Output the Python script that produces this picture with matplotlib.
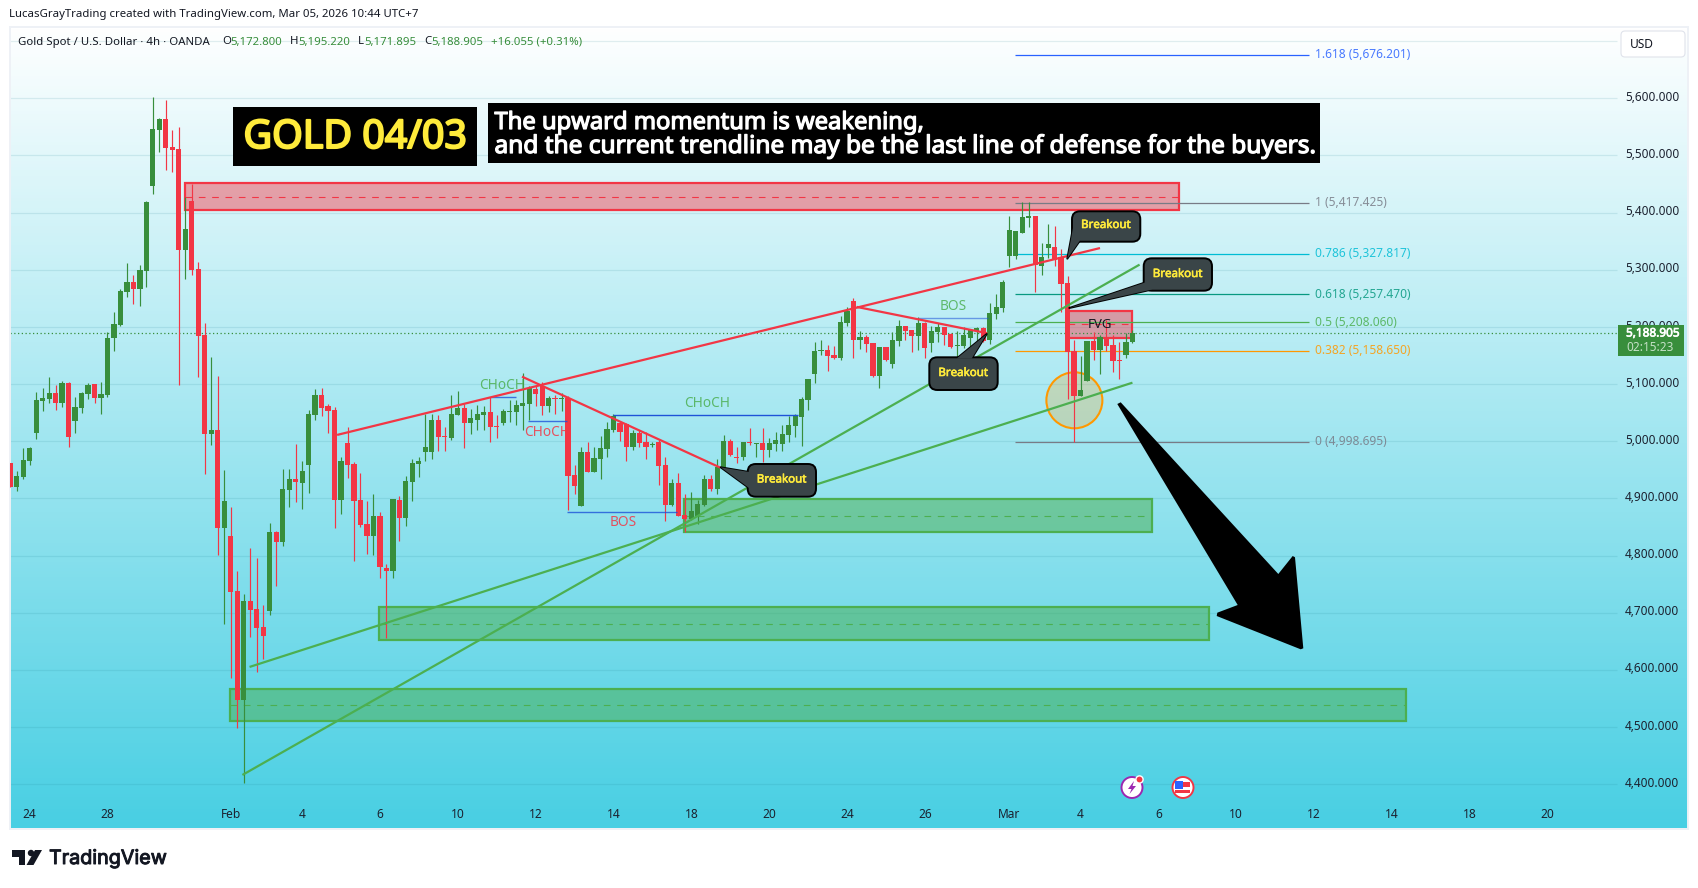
import numpy as np
import matplotlib
matplotlib.use("Agg")
import matplotlib.pyplot as plt
import matplotlib.patheffects as pe
from matplotlib.colors import LinearSegmentedColormap, to_rgba
from matplotlib.patches import Rectangle, Ellipse, Polygon, FancyBboxPatch, Circle

plt.rcParams['font.family'] = ['Noto Sans', 'DejaVu Sans']

# candles, one every 4h
opens = [4961, 4919, 4937, 4965, 5015, 5070, 5074, 5084, 5067, 5102,
         5035, 5058, 5083, 5100, 5075, 5081, 5180, 5203, 5261, 5279,
         5266, 5298, 5446, 5544, 5564, 5515, 5511, 5335, 5420, 5301,
         5186, 5013, 5020, 4848, 4834, 4738, 4547, 4720, 4706, 4675,
         4703, 4841, 4823, 4915, 4934, 4927, 4958, 5046, 5081, 5062,
         5054, 4897, 4997, 4960, 4897, 4855, 4834, 4869, 4778, 4773,
         4897, 4866, 4929, 4960, 4981, 4981, 5037, 5009, 5005, 5046,
         5058, 5032, 5037, 5046, 5051, 5027, 5032, 5051, 5051, 5062,
         5065, 5091, 5097, 5062, 5075, 5073, 5075, 4941, 4887, 4981,
         4946, 4969, 4986, 5020, 5032, 5030, 4990, 5014, 4999, 4993,
         4999, 4958, 4888, 4927, 4871, 4864, 4869, 4888, 4934, 4916,
         4953, 5000, 4973, 4972, 4998, 4995, 4997, 4985, 4995, 4995,
         5011, 5027, 5042, 5072, 5118, 5158, 5159, 5151, 5146, 5207,
         5245, 5177, 5182, 5172, 5114, 5165, 5135, 5175, 5201, 5195,
         5184, 5207, 5172, 5191, 5200, 5188, 5167, 5167, 5181, 5193,
         5198, 5177, 5223, 5233, 5324, 5324, 5364, 5390, 5394, 5306,
         5338, 5340, 5322, 5277, 5158, 5079, 5105, 5175, 5160, 5180,
         5168, 5142, 5151, 5172.8]
highs = [4961, 4948, 4988, 4990, 5086, 5093, 5112, 5098, 5105, 5104,
         5077, 5086, 5102, 5100, 5103, 5191, 5226, 5266, 5312, 5291,
         5308, 5420, 5602, 5565, 5597, 5544, 5550, 5427, 5450, 5313,
         5207, 5147, 5114, 4950, 4885, 4773, 4733, 4813, 4796, 4713,
         4857, 4843, 4951, 4951, 4995, 4965, 5054, 5091, 5093, 5065,
         5060, 4972, 5025, 4964, 4944, 4895, 4908, 4876, 4785, 4899,
         4904, 4939, 4969, 4972, 5047, 5047, 5046, 5025, 5081, 5088,
         5065, 5056, 5063, 5061, 5077, 5046, 5056, 5072, 5072, 5119,
         5097, 5097, 5104, 5079, 5081, 5084, 5079, 4958, 4990, 4999,
         4990, 5009, 5034, 5047, 5034, 5032, 5020, 5020, 5016, 4999,
         5002, 4972, 4934, 4944, 4907, 4911, 4897, 4941, 4941, 4969,
         5011, 5004, 4990, 4998, 5023, 4997, 5023, 5005, 5016, 5028,
         5044, 5048, 5077, 5109, 5174, 5177, 5168, 5167, 5219, 5235,
         5251, 5193, 5186, 5172, 5165, 5165, 5191, 5212, 5201, 5195,
         5217, 5209, 5201, 5207, 5200, 5189, 5193, 5200, 5196, 5200,
         5200, 5242, 5258, 5282, 5394, 5367, 5418, 5418, 5394, 5347,
         5380, 5376, 5336, 5289, 5177, 5149, 5175, 5191, 5186, 5212,
         5186, 5173, 5189, 5195.22]
lows = [4919, 4913, 4934, 4959, 5004, 5053, 5066, 5055, 5060, 4990,
        5014, 5049, 5074, 5067, 5048, 5077, 5158, 5201, 5252, 5240,
        5237, 5270, 5432, 5506, 5475, 5471, 5098, 5284, 5291, 5112,
        4943, 4993, 4801, 4680, 4586, 4498, 4402, 4657, 4596, 4619,
        4696, 4747, 4817, 4885, 4894, 4881, 4909, 5037, 5044, 5014,
        4848, 4873, 4935, 4790, 4850, 4803, 4801, 4760, 4655, 4761,
        4825, 4852, 4895, 4937, 4965, 4969, 4983, 4983, 5002, 5046,
        4988, 5012, 5019, 5019, 4998, 5005, 5028, 5033, 5028, 5020,
        5037, 5062, 5046, 5051, 5048, 5053, 4880, 4908, 4887, 4946,
        4946, 4934, 4972, 5016, 5000, 4965, 4985, 4990, 4969, 4990,
        4923, 4860, 4887, 4869, 4841, 4862, 4855, 4887, 4913, 4908,
        4953, 4974, 4962, 4967, 4993, 4972, 4964, 4973, 4983, 4983,
        4999, 5007, 4992, 5054, 5102, 5151, 5123, 5144, 5142, 5202,
        5146, 5161, 5156, 5112, 5093, 5140, 5128, 5167, 5177, 5156,
        5160, 5146, 5156, 5174, 5168, 5163, 5131, 5163, 5167, 5174,
        5174, 5170, 5214, 5226, 5305, 5319, 5364, 5375, 5261, 5291,
        5320, 5306, 5226, 5074, 4999, 5079, 5105, 5142, 5117, 5158,
        5121, 5109, 5145, 5171.895]
closes = [4919, 4939, 4967, 4988, 5072, 5076, 5084, 5067, 5102, 5007,
          5060, 5084, 5098, 5075, 5083, 5180, 5205, 5263, 5279, 5266,
          5300, 5418, 5546, 5564, 5513, 5510, 5335, 5371, 5300, 5184,
          5013, 5020, 4848, 4895, 4736, 4547, 4720, 4705, 4673, 4659,
          4841, 4823, 4916, 4934, 4929, 4948, 5048, 5081, 5058, 5053,
          4897, 4965, 4958, 4895, 4853, 4834, 4869, 4780, 4773, 4899,
          4866, 4930, 4962, 4965, 4990, 5037, 5007, 5007, 5047, 5058,
          5032, 5040, 5047, 5051, 5025, 5025, 5053, 5053, 5063, 5067,
          5093, 5082, 5062, 5075, 5073, 5075, 4939, 4922, 4981, 4946,
          4970, 4988, 5021, 5044, 5016, 4990, 5014, 4997, 4990, 4995,
          4957, 4888, 4927, 4869, 4864, 4878, 4890, 4934, 4916, 4955,
          5000, 4976, 4971, 4998, 4996, 4997, 4985, 4997, 5002, 5013,
          5028, 5044, 5074, 5109, 5158, 5159, 5149, 5146, 5208, 5228,
          5177, 5182, 5170, 5114, 5165, 5142, 5177, 5201, 5193, 5184,
          5207, 5163, 5193, 5200, 5186, 5165, 5168, 5186, 5195, 5198,
          5175, 5224, 5235, 5279, 5369, 5367, 5392, 5394, 5308, 5322,
          5345, 5317, 5275, 5156, 5079, 5089, 5175, 5160, 5182, 5166,
          5140, 5140, 5173, 5188.905]

# axis labels
price_ticks = [5600, 5500, 5400, 5300, 5200, 5100, 5000, 4900, 4800, 4700, 4600, 4500, 4400]
grid_prices = [5700] + price_ticks
time_ticks = [3, 15, 34, 45, 57, 69, 81, 93, 105, 117, 129, 141, 154, 165, 177, 189, 201, 213, 225, 237]
time_labels = ['24', '28', 'Feb', '4', '6', '10', '12', '14', '18', '20', '24', '26',
               'Mar', '4', '6', '10', '12', '14', '18', '20']

# supply / demand zones
zone_left = [26.9, 103.8, 56.9, 33.9, 163.1]
zone_right = [180.1, 176.0, 184.8, 215.1, 173.0]
zone_low = [5404.5, 4841, 4652, 4510, 5181]
zone_high = [5451, 4898.3, 4709.3, 4567, 5228]
zone_mid = [5428, 4869, 4680, 4538, 5204.5]
zone_color = ['#F23645', '#4CAF50', '#4CAF50', '#4CAF50', '#F23645']

# fibonacci levels
fib_ratios = ['1.618', '1', '0.786', '0.618', '0.5', '0.382', '0']
fib_prices = [5676.201, 5417.425, 5327.817, 5257.470, 5208.060, 5158.650, 4998.695]
fib_colors = ['#2962FF', '#787B86', '#00BCD4', '#089981', '#4CAF50', '#FF9800', '#787B86']
fib_start = 154.9
fib_end = 200.2

# trend lines, bar/price of both ends
red_bars = [(50.4, 168.0), (78.9, 109.5), (130.5, 150.6)]
red_prices = [(5011, 5338), (5113, 4953.6), (5235, 5189)]
green_bars = [(35.8, 174.1), (36.9, 173.0)]
green_prices = [(4416, 5309), (4605, 5102.4)]

# structure lines and their tags
struct_start = [74.1, 79.9, 93.0, 85.9, 140.0]
struct_end = [78.0, 85.8, 121.5, 102.8, 150.8]
struct_price = [5078, 5035, 5045, 4877, 5216]
struct_alpha = [0.8, 0.8, 1.0, 0.8, 0.55]
tag_text = ['CHoCH', 'CHoCH', 'CHoCH', 'BOS', 'BOS']
tag_bar = [75.8, 82.8, 107.4, 94.5, 145.4]
tag_price = [5098, 5016, 5066, 4857, 5236]
tag_color = ['#4CAF50', '#F23645', '#4CAF50', '#F23645', '#4CAF50']

GREEN = '#388E3C'
RED = '#F23645'
last_price = closes[-1]

X0, X1 = 0.05, 258.64
Y0, Y1 = 4322.3, 5724.8

fig = plt.figure(figsize=(16.99, 8.88), dpi=100, facecolor='white')
ax = fig.add_axes([10.5 / 1699, 59.5 / 888, 1677.5 / 1699, 801.5 / 888])
ax.set_xlim(X0, X1)
ax.set_ylim(Y0, Y1)

# background gradient
cmap = LinearSegmentedColormap.from_list('bg', ['#FFFFFF', '#48CFE3'])
ax.imshow(np.linspace(0, 1, 256).reshape(-1, 1), cmap=cmap, aspect='auto', zorder=0,
          extent=[X0, X1, Y0, Y1], origin='upper')

ax.hlines(grid_prices, X0, 247.7, color='#1E7F90', alpha=0.13, lw=0.9, zorder=1)

# zones
for i in range(len(zone_left)):
    w = zone_right[i] - zone_left[i]
    h = zone_high[i] - zone_low[i]
    fill = to_rgba(zone_color[i], 0.45 if zone_color[i] == RED else 0.5)
    ax.add_patch(Rectangle((zone_left[i], zone_low[i]), w, h, facecolor=fill,
                           edgecolor=zone_color[i], lw=1.6, zorder=2))
    ax.hlines(zone_mid[i], zone_left[i], zone_right[i], color=zone_color[i], lw=0.8,
              linestyles=(0, (6, 6)), zorder=2.1)

# fib lines
for r, p, c in zip(fib_ratios, fib_prices, fib_colors):
    ax.hlines(p, fib_start, fib_end, color=c, lw=0.9, zorder=2.4)
    ax.text(fib_end + 1.0, p, f'{r} ({p:,.3f})', color=c, fontsize=8.6, va='center', ha='left',
            alpha=0.85, zorder=5)

ax.hlines(last_price, X0, 247.7, color=GREEN, lw=0.9, linestyles=(0, (1, 2)), zorder=2.5)

# orange circle at the low
ax.add_patch(Ellipse((164.05, 5071.6), 56 / 6.489, 56 / 0.5715, facecolor=to_rgba('#FF9800', 0.22),
                     edgecolor='#FF9800', lw=1.5, zorder=2.8))

# candles
x = np.arange(len(opens))
o = np.array(opens, dtype=float)
c = np.array(closes, dtype=float)
up = c >= o
colors = np.where(up, GREEN, RED)
ax.vlines(x, lows, highs, colors=colors, lw=0.85, zorder=3)
bottoms = np.minimum(o, c)
heights = np.maximum(np.abs(c - o), 1.6)
ax.bar(x, heights, bottom=bottoms, width=0.8, color=colors, linewidth=0, zorder=3.1)

# structure lines
for s, e, p, a in zip(struct_start, struct_end, struct_price, struct_alpha):
    ax.hlines(p, s, e, color='#1E53D8', lw=1.0, alpha=a, zorder=3.4)
for t, bx, p, col in zip(tag_text, tag_bar, tag_price, tag_color):
    ax.text(bx, p, t, color=col, fontsize=9.8, ha='center', va='center', alpha=0.85, zorder=5)

# trend lines
for xs, ys in zip(red_bars, red_prices):
    ax.plot(xs, ys, color=RED, lw=1.6, zorder=4, solid_capstyle='butt')
for xs, ys in zip(green_bars, green_prices):
    ax.plot(xs, ys, color='#4CAF50', lw=1.6, zorder=4, solid_capstyle='butt')

# axis labels sit inside the panel
ylab_tr = ax.get_yaxis_transform()
for p in price_ticks:
    ax.text(0.9624, p + 1.5, f'{p:,.3f}', transform=ylab_tr, fontsize=8.5, color='#1C2230', va='center', ha='left', zorder=5)
xlab_tr = ax.get_xaxis_transform()
for t, lab in zip(time_ticks, time_labels):
    ax.text(t, 0.0175, lab, transform=xlab_tr, fontsize=8.6, color='#1C2230', va='center', ha='center', zorder=5)

ax.set_xticks([])
ax.set_yticks([])
for sp in ax.spines.values():
    sp.set_color('#EEF1F6')
    sp.set_linewidth(1.4)

# overlay in pixels for the drawing tools and page furniture
px = fig.add_axes([0, 0, 1, 1], facecolor='none')
px.set_xlim(0, 1699)
px.set_ylim(888, 0)
px.axis('off')


def bold(color, width):
    # Noto Sans has no bold face here, thicken with a stroke
    return [pe.withStroke(linewidth=width, foreground=color)]


# header
px.text(9, 15, 'LucasGrayTrading created with TradingView.com, Mar 05, 2026 10:44 UTC+7',
        fontsize=8.2, color='#131722', va='center')
px.text(18, 42, 'Gold Spot / U.S. Dollar · 4h · OANDA', fontsize=8.2, color='#131722', va='center')
for xp, s, col in [(222, 'O', '#131722'), (230, '5,172.800', GREEN),
                   (290, 'H', '#131722'), (298, '5,195.220', GREEN),
                   (358, 'L', '#131722'), (364.5, '5,171.895', GREEN),
                   (424, 'C', '#131722'), (431.5, '5,188.905', GREEN),
                   (491.5, '+16.055 (+0.31%)', GREEN)]:
    px.text(xp, 42, s, fontsize=8.2, color=col, va='center')

# USD button and last price tag
px.add_patch(FancyBboxPatch((1621, 31), 64, 26, boxstyle='round,pad=0,rounding_size=4',
                            facecolor='white', edgecolor='#E0E3EB', lw=0.8))
px.text(1630, 44.5, 'USD', fontsize=8.6, color='#131722', va='center')
px.add_patch(Rectangle((1618, 325), 66, 31, facecolor=GREEN, edgecolor='none'))
px.text(1626, 333, '5,188.905', fontsize=8.5, color='white', va='center', path_effects=bold('white', 0.5))
px.text(1626, 347, '02:15:23', fontsize=8.5, color='#C4E0C6', va='center')

# banners
px.add_patch(Rectangle((233, 107), 244, 59, facecolor='black', edgecolor='none'))
px.text(355, 138, 'GOLD 04/03', fontsize=28.3, color='#FFEB3B', ha='center', va='center',
        path_effects=bold('#FFEB3B', 1.5))
px.add_patch(Rectangle((488, 103), 832, 60, facecolor='black', edgecolor='none'))
px.text(494.5, 129, 'The upward momentum is weakening,', fontsize=17.1, color='white', va='baseline',
        path_effects=bold('white', 0.9))
px.text(494.5, 153, 'and the current trendline may be the last line of defense for the buyers.',
        fontsize=17.6, color='white', va='baseline', path_effects=bold('white', 0.9))

# FVG tag
px.text(1100, 324, 'FVG', fontsize=9.6, color='#131722', ha='center', va='center')


def callout(left, top, right, bottom, pointer, label_x, label_y):
    face = '#3A4548'
    px.add_patch(Polygon(pointer, closed=True, facecolor=face, edgecolor='black', lw=1.4, joinstyle='round'))
    px.add_patch(FancyBboxPatch((left, top), right - left, bottom - top,
                                boxstyle='round,pad=0,rounding_size=8',
                                facecolor=face, edgecolor='black', lw=1.4))
    px.add_patch(Polygon(pointer, closed=True, facecolor=face, edgecolor='none'))
    px.text(label_x, label_y, 'Breakout', fontsize=8.3, color='#FFEB3B', ha='center', va='center',
            path_effects=bold('#FFEB3B', 0.45))


callout(747.7, 464, 816, 496.7, [(720.7, 467.3), (749, 472), (749, 488)], 781.7, 480)
callout(929.3, 357.3, 997.7, 390, [(986.7, 334), (956.7, 358.5), (971.7, 358.5)], 963.3, 373.5)
callout(1072, 211.3, 1140.3, 241.7, [(1067.3, 258.7), (1073, 228), (1080, 240.5)], 1106, 225.5)
callout(1143.7, 258.3, 1212, 290.7, [(1069.3, 308), (1145, 282.5), (1152, 289.5)], 1177.7, 274.5)

# big arrow
arrow = [(1117.3, 404), (1120.7, 402.3), (1278.3, 574), (1292.7, 556), (1295, 557.3),
         (1303.3, 648.3), (1300.7, 649.3), (1216.7, 616), (1217.3, 612.7), (1237.7, 605)]
px.add_patch(Polygon(arrow, closed=True, facecolor='black', edgecolor='none'))

# event icons
px.add_patch(Circle((1132, 787.5), 10.5, facecolor='white', edgecolor='#9C27B0', lw=1.4))
px.add_patch(Polygon([(1134, 781), (1128, 789), (1131.5, 789), (1129.5, 794), (1136, 786), (1132.5, 786)],
                     closed=True, facecolor='#9C27B0', edgecolor='none'))
px.add_patch(Circle((1139.5, 779.5), 3.6, facecolor='#F23645', edgecolor='white', lw=1))
px.add_patch(Circle((1183, 787.5), 10.5, facecolor='white', edgecolor='#F23645', lw=1.4))
px.add_patch(Rectangle((1175.5, 782), 15, 4.5, facecolor='#F23645', edgecolor='none'))
px.add_patch(Rectangle((1175.5, 790), 15, 3, facecolor='#F23645', edgecolor='none'))
px.add_patch(Rectangle((1175.5, 780.5), 7.5, 8, facecolor='#2962FF', edgecolor='none'))

# footer logo
px.add_patch(Polygon([(12, 850), (25, 850), (25, 865), (19, 865), (19, 856.5), (12, 856.5)],
                     closed=True, facecolor='#131722', edgecolor='none'))
px.add_patch(Circle((31, 853), 3.2, facecolor='#131722', edgecolor='none'))
px.add_patch(Polygon([(35, 850), (42, 850), (33.5, 865), (26.5, 865)], closed=True, facecolor='#131722', edgecolor='none'))
px.text(49, 864, 'TradingView', fontsize=14.2, family='Inter', color='#131722', va='baseline',
        path_effects=bold('#131722', 0.7))

fig.savefig('out.png', dpi=100)
